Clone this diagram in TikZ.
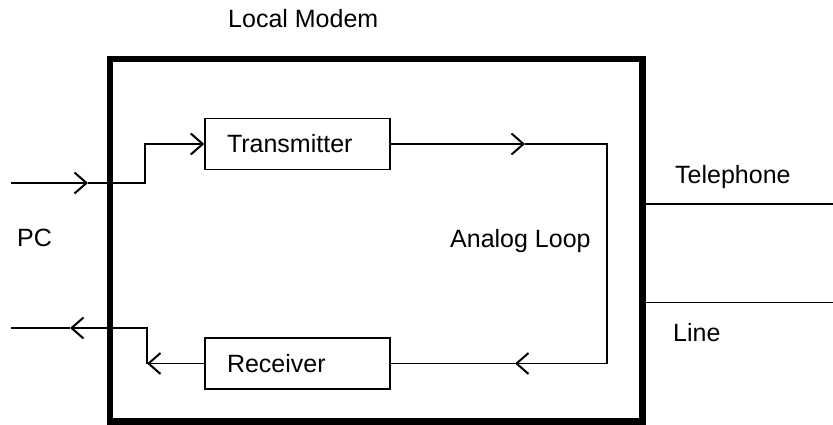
\documentclass[tikz,border=0pt]{standalone}
\usepackage{fontspec}
\setmainfont{Liberation Sans}
\usetikzlibrary{arrows.meta,positioning}

\begin{document}
\begin{tikzpicture}[x=1pt,y=-1pt]
				\tikzset{every node/.style={font=\fontsize{25}{30}\selectfont}}
				\tikzset{lbl/.style={anchor=base west,inner sep=0pt}}
				\tikzset{unit/.style={draw,line width=1.5pt,minimum height=51pt,text width=141pt,inner xsep=22pt,inner ysep=0pt,align=left,text height=18pt,text depth=0pt}}
				\tikzset{wire/.style={line width=1.5pt}}
				\tikzset{chev/.style={wire,-{Straight Barb[length=12pt,width=21pt,line width=2pt]}}}
				\useasboundingbox (0,0) rectangle (833,425);
				\draw[line width=6.5pt] (110,59) rectangle (642.5,421.5);
				\node[unit] (tx) at (297.5,144) {Transmitter};
				\node[unit] (rx) at (297.5,363.5) {Receiver};
				\coordinate (pcin) at (11,183);
				\coordinate (intip) at (88,183);
				\coordinate (inbend) at (145,183);
				\coordinate (looptop) at (525,0 |- tx.east);
				\coordinate (loopcorner) at (607,0 |- tx.east);
				\coordinate (loopbot) at (515,0 |- rx.east);
				\coordinate (outbend) at (147,0 |- rx.west);
				\coordinate (outtip) at (70,328);
				\coordinate (pcout) at (11,328);
				\draw[chev] (pcin) -- (intip);
				\draw[chev] (intip) -- (inbend) |- (tx.west);
				\draw[chev] (tx.east) -- (looptop);
				\draw[chev] (looptop) -- (loopcorner) |- (loopbot);
				\draw[wire] (loopbot) -- (rx.east);
				\draw[chev] (rx.west) -- (outbend);
				\draw[chev] (outbend) |- (outtip);
				\draw[wire] (outtip) -- (pcout);
				\coordinate (tel1) at (642.5,204);
				\coordinate (tel2) at (642.5,302.5);
				\draw[wire] (tel1) -- (833,204);
				\draw[wire] (tel2) -- (833,302.5);
				\node[lbl] (modem) at (228,28) {Local Modem};
				\node[lbl] (pc) at (17,246) {PC};
				\node[lbl] (loop) at (450,247) {Analog Loop};
				\node[lbl] (telephone) at (675,183) {Telephone};
				\node[lbl] (line) at (673,341) {Line};
			\end{tikzpicture}
\end{document}
